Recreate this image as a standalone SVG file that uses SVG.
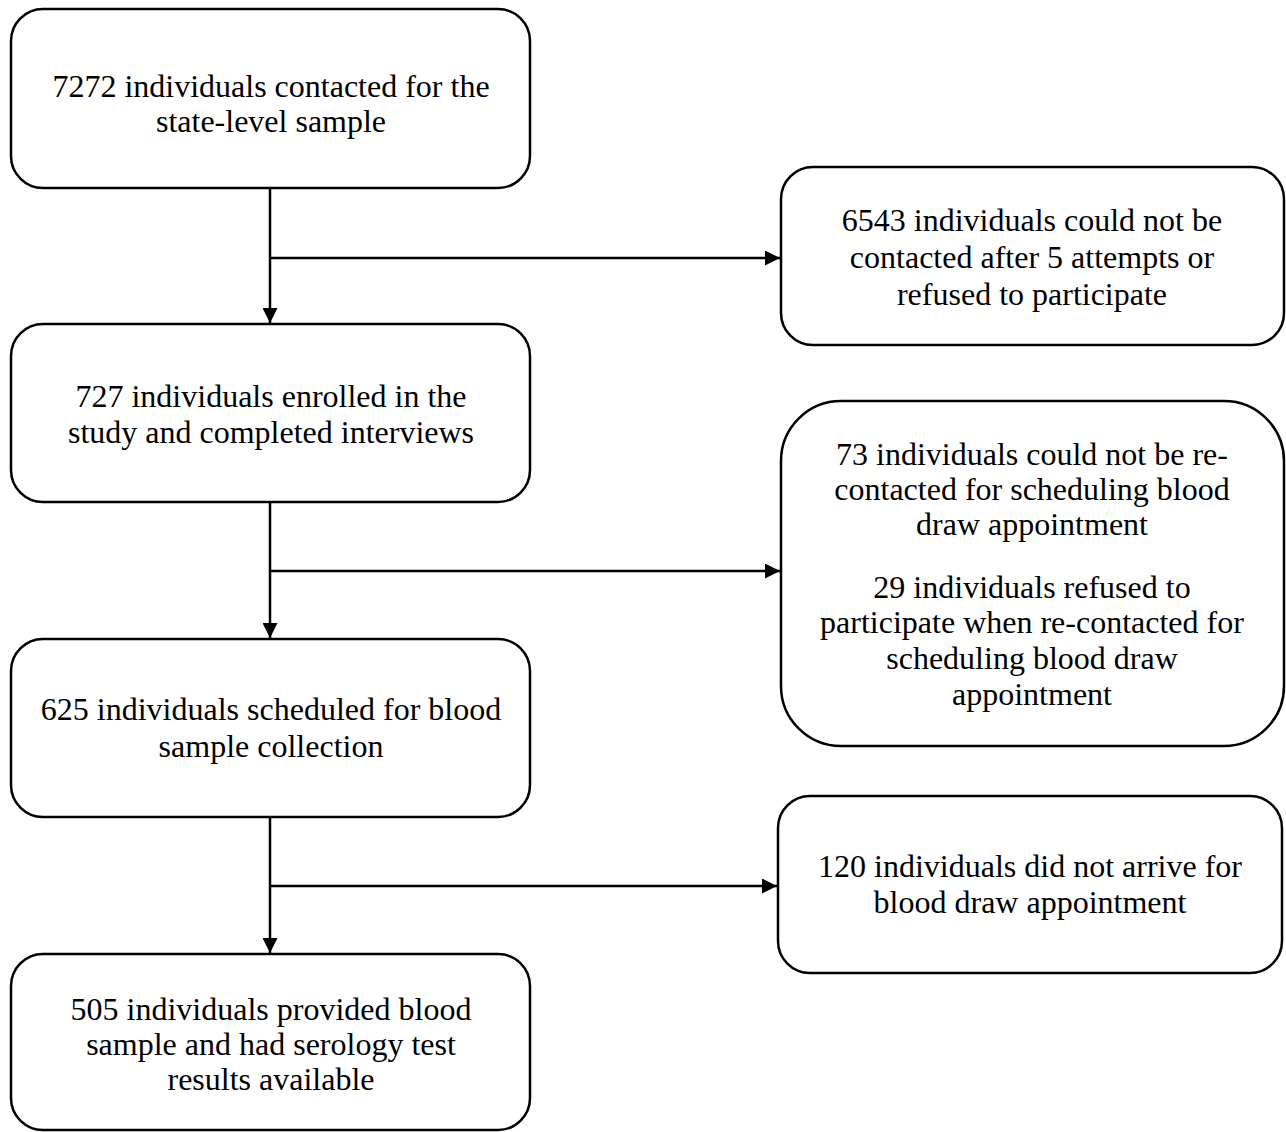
<svg xmlns="http://www.w3.org/2000/svg" width="1286" height="1132" viewBox="0 0 1286 1132">
<style>
.box{fill:#fff;stroke:#000;stroke-width:2.5}
.t{font-family:"Liberation Serif","Times New Roman",serif;font-size:32px;fill:#000;text-anchor:middle}
.c{stroke:#000;stroke-width:2.5;fill:none}
</style>
<defs>
<marker id="ah" viewBox="0 0 10 10" refX="10" refY="5" markerWidth="6" markerHeight="6" markerUnits="strokeWidth" orient="auto">
<path d="M0,0 L10,5 L0,10 Z" fill="#000"/>
</marker>
</defs>
<rect width="1286" height="1132" fill="#fff"/>
<g id="connectors">
<line class="c" x1="270" y1="188" x2="270" y2="323" marker-end="url(#ah)"/>
<line class="c" x1="270" y1="258" x2="780" y2="258" marker-end="url(#ah)"/>
<line class="c" x1="270" y1="502" x2="270" y2="638" marker-end="url(#ah)"/>
<line class="c" x1="270" y1="571" x2="780" y2="571" marker-end="url(#ah)"/>
<line class="c" x1="270" y1="817" x2="270" y2="953" marker-end="url(#ah)"/>
<line class="c" x1="270" y1="886" x2="777" y2="886" marker-end="url(#ah)"/>
</g>
<g id="n1">
<rect class="box" x="11" y="9" width="519" height="179" rx="32"/>
<text class="t" x="271" y="97">7272 individuals contacted for the</text>
<text class="t" x="271" y="132">state-level sample</text>
</g>
<g id="n2">
<rect class="box" x="781" y="167" width="503" height="178" rx="32"/>
<text class="t" x="1032" y="231">6543 individuals could not be</text>
<text class="t" x="1032" y="268">contacted after 5 attempts or</text>
<text class="t" x="1032" y="305">refused to participate</text>
</g>
<g id="n3">
<rect class="box" x="11" y="324" width="519" height="178" rx="32"/>
<text class="t" x="271" y="407">727 individuals enrolled in the</text>
<text class="t" x="271" y="443">study and completed interviews</text>
</g>
<g id="n4">
<rect class="box" x="781" y="401" width="503" height="345" rx="60"/>
<text class="t" x="1032" y="465">73 individuals could not be re-</text>
<text class="t" x="1032" y="500">contacted for scheduling blood</text>
<text class="t" x="1032" y="535">draw appointment</text>
<text class="t" x="1032" y="598">29 individuals refused to</text>
<text class="t" x="1032" y="633">participate when re-contacted for</text>
<text class="t" x="1032" y="669">scheduling blood draw</text>
<text class="t" x="1032" y="705">appointment</text>
</g>
<g id="n5">
<rect class="box" x="11" y="639" width="519" height="178" rx="32"/>
<text class="t" x="271" y="720">625 individuals scheduled for blood</text>
<text class="t" x="271" y="757">sample collection</text>
</g>
<g id="n6">
<rect class="box" x="778" y="796" width="504" height="177" rx="32"/>
<text class="t" x="1030" y="877">120 individuals did not arrive for</text>
<text class="t" x="1030" y="913">blood draw appointment</text>
</g>
<g id="n7">
<rect class="box" x="11" y="954" width="519" height="176" rx="32"/>
<text class="t" x="271" y="1020">505 individuals provided blood</text>
<text class="t" x="271" y="1055">sample and had serology test</text>
<text class="t" x="271" y="1090">results available</text>
</g>
</svg>
